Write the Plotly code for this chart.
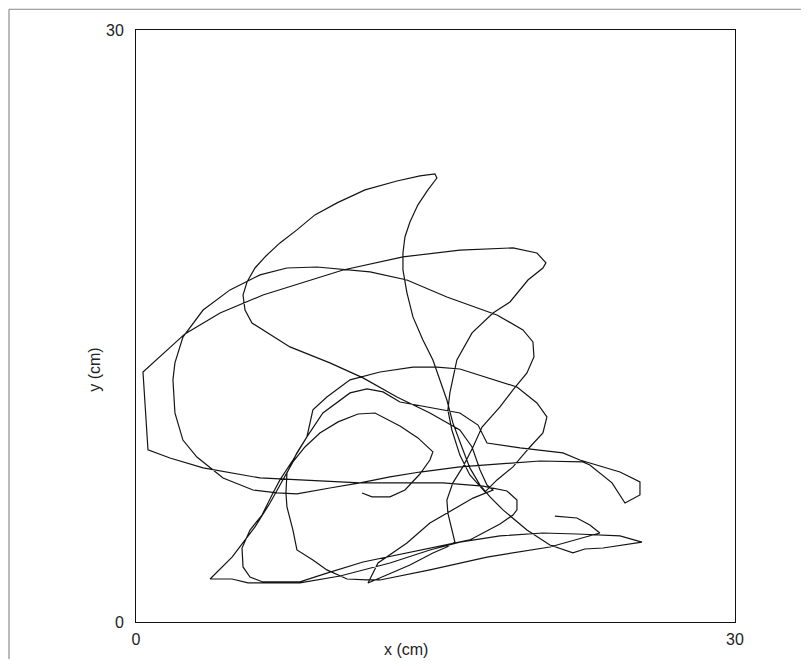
import plotly.graph_objects as go

# Trajectory (cm)
x_cm = [11.32, 11.82, 12.72, 13.47, 14.22, 14.72, 14.87, 14.12, 13.22, 11.97, 11.12, 10.12, 9.21, 8.46, 7.86, 7.36, 6.71, 5.96, 4.81, 3.71,
        4.81, 5.61, 6.46, 8.21, 10.22, 12.72, 14.72, 16.22, 18.23, 20.38, 22.08, 24.24, 25.34,
        24.24, 23.39, 22.48, 21.88, 20.73, 19.58, 18.38, 17.73, 17.23, 16.72, 16.32, 15.87, 15.57, 15.22, 14.87, 14.37, 13.87, 13.57, 13.37, 13.37, 13.47, 13.72, 14.12, 14.62, 15.07, 14.97,
        14.22, 13.07, 11.47, 10.07, 8.96, 8.06, 7.21, 6.51, 5.96, 5.56, 5.36, 5.46, 5.81,
        7.71, 9.71, 11.37, 13.07, 14.72, 16.22, 16.83, 17.23, 17.58, 17.88,
        16.88, 15.57, 14.72, 13.57, 12.12, 11.62,
        13.72, 14.87, 15.57, 15.97, 15.82, 15.62, 15.57, 15.87, 16.37, 16.88, 17.33, 18.23, 18.88, 19.58, 19.93, 19.88, 19.38, 18.08, 15.57, 13.57, 11.72, 9.06, 7.56, 6.21, 4.71, 3.36, 2.35, 1.95, 1.85, 1.95, 2.35, 3.05, 4.36, 5.86, 7.06, 8.06, 9.71, 11.22, 12.72, 14.22, 16.22, 18.23, 20.23, 22.38,
        22.73, 23.84, 24.49, 25.24, 25.24, 24.24, 22.23, 21.38, 19.23, 17.58, 17.13, 16.22, 14.57, 13.22, 12.37, 11.57, 10.72, 9.36, 8.56, 7.86, 7.21, 6.86, 6.31, 5.71, 5.31, 5.36, 5.71, 6.36, 8.21, 9.56, 11.37, 14.72, 16.72, 18.23, 18.88,
        19.08, 19.08, 18.58, 17.38, 15.37, 13.22, 11.22, 6.21, 3.36, 1.70, 0.60, 0.35,
        2.45, 4.21, 6.36, 10.37, 13.37, 16.22, 18.88, 20.08, 20.53, 20.38, 19.63, 18.73, 17.88, 16.83, 16.07, 15.72, 15.62, 15.82, 16.22, 16.72, 17.48,
        18.08, 18.88, 19.73, 20.38, 20.58, 20.08, 19.08, 16.88, 16.22, 15.07, 13.87, 12.22, 10.72, 9.56, 8.86, 8.56, 8.06, 7.56, 7.51, 7.56, 7.86, 8.06, 8.86, 9.56, 10.57, 11.57, 12.22, 14.72, 17.58, 20.73, 23.23, 22.73, 22.08, 20.98]
y_cm = [6.54, 6.34, 6.34, 6.69, 7.50, 8.21, 8.62, 9.33, 9.93, 10.59, 10.54, 10.14, 9.58, 8.87, 8.11, 7.20, 6.03, 4.82, 3.29, 2.18,
        2.18, 1.98, 1.98, 1.98, 2.33, 2.99, 3.65, 4.05, 4.36, 4.51, 4.46, 4.36, 4.05,
        3.90, 3.75, 3.70, 3.50, 3.90, 4.66, 5.68, 6.34, 6.94, 7.81, 8.87, 10.09, 11.25, 12.27, 13.28, 14.29, 15.46, 16.68, 17.84, 18.70, 19.51, 20.27, 21.14, 21.90, 22.50, 22.71,
        22.61, 22.35, 21.90, 21.24, 20.63, 19.87, 19.21, 18.55, 17.94, 17.23, 16.57, 15.81, 15.15,
        13.94, 13.13, 12.37, 11.40, 10.59, 9.73, 8.87, 7.70, 6.94, 6.69,
        6.28, 5.52, 5.02, 4.00, 2.99, 1.98,
        2.89, 3.50, 3.80, 4.05, 4.66, 5.52, 6.18, 7.05, 7.86, 8.87, 9.88, 10.90, 11.76, 12.62, 13.43, 14.19, 14.80, 15.56, 16.47, 17.33, 17.74, 17.99, 17.94, 17.59, 16.83, 15.81, 14.44, 13.13, 12.27, 10.59, 9.22, 8.36, 7.30, 6.69, 6.54, 6.49, 6.79, 7.05, 7.35, 7.60, 7.86, 8.01, 8.16, 8.11,
        7.96, 7.05, 6.03, 6.44, 7.10, 7.60, 8.21, 8.57, 8.82, 9.07, 9.98, 10.59, 10.90, 11.15, 11.66, 11.81, 11.61, 10.59, 9.38, 8.21, 7.20, 6.54, 5.42, 4.66, 3.75, 2.79, 2.28, 2.03, 2.03, 2.48, 3.04, 3.75, 4.16, 4.97, 5.42,
        5.68, 6.18, 6.64, 6.89, 7.05, 7.05, 7.05, 7.30, 7.81, 8.31, 8.72, 12.67,
        14.60, 15.66, 16.57, 17.84, 18.50, 18.85, 18.96, 18.70, 18.20, 17.94, 17.33, 16.22, 15.66, 14.65, 13.28, 11.61, 10.75, 9.73, 8.46, 7.45, 6.59,
        7.20, 7.86, 8.87, 9.58, 10.39, 11.10, 11.91, 12.62, 12.82, 12.92, 12.92, 12.67, 12.27, 11.40, 10.75, 9.38, 8.57, 7.55, 6.54, 5.83, 4.66, 3.65, 3.14, 2.64, 2.18, 2.13, 2.13, 2.64, 3.29, 3.80, 4.51, 4.92, 5.27, 5.37]

tick_vals = [0, 30]
tick_text = ["0", "30"]

FONT = "Liberation Sans, Arial, Helvetica, sans-serif"
TXT = "#222"

fig = go.Figure()
fig.add_trace(go.Scatter(x=x_cm, y=y_cm, mode="lines",
                         line=dict(color="#141414", width=1.2), hoverinfo="skip",
                         showlegend=False))

axis_common = dict(range=[0, 30], tickvals=tick_vals, ticktext=tick_text,
                   showgrid=False, zeroline=False, showline=True, linecolor="#111",
                   linewidth=1, mirror=True, ticks="outside",
                   tickcolor="rgba(0,0,0,0)", tickfont=dict(family=FONT, size=16, color=TXT))
fig.update_xaxes(ticklen=3, **axis_common)
fig.update_yaxes(ticklen=8, **axis_common)

fig.add_annotation(text="x (cm)", xref="paper", yref="paper", x=0.45, y=0,
                   xanchor="center", yanchor="middle", yshift=-27, showarrow=False,
                   font=dict(family=FONT, size=16, color=TXT))
fig.add_annotation(text="y (cm)", xref="paper", yref="paper", x=0, y=0.426,
                   xanchor="center", yanchor="middle", xshift=-41, textangle=-90,
                   showarrow=False, font=dict(family=FONT, size=16, color=TXT))

# page border (scan edge)
fig.add_shape(type="line", xref="paper", yref="paper", x0=-0.212, x1=-0.212, y0=-0.07, y1=1.035,
              line=dict(color="#777", width=1))
fig.add_shape(type="line", xref="paper", yref="paper", x0=-0.212, x1=1.11, y0=1.035, y1=1.035,
              line=dict(color="#888", width=1))

# page body has an 8px default margin; compensate so the frame sits at 136..735 x 30..622
fig.update_layout(width=796, height=651, margin=dict(l=128, r=69, t=22, b=37),
                  plot_bgcolor="white", paper_bgcolor="white")

fig.write_html("out.html")
